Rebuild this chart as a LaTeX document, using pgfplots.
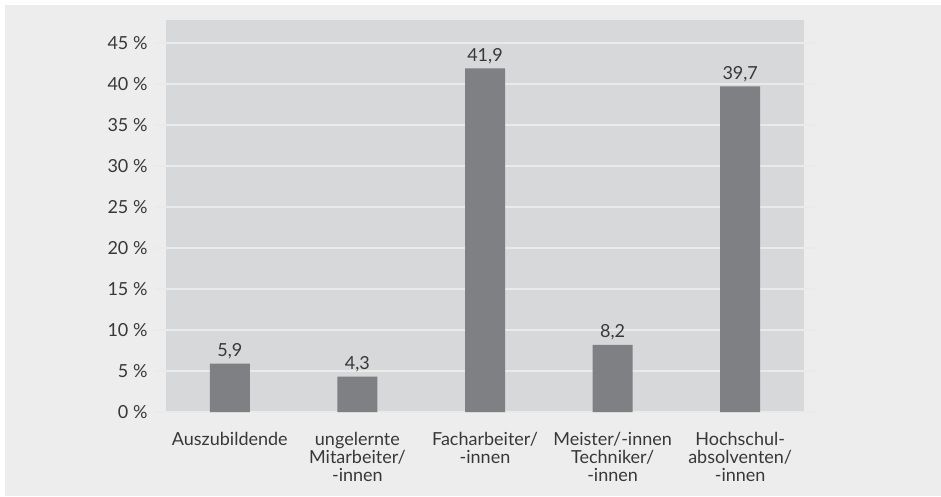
\documentclass[border=0pt]{standalone}
\usepackage{fontspec}
\setmainfont{Lato}
\usepackage{pgfplots}
\pgfplotsset{compat=1.18}
\definecolor{outerbg}{HTML}{EDEDED}
\definecolor{plotbg}{HTML}{D7D8DA}
\definecolor{barcol}{HTML}{7F8084}
\definecolor{gridcol}{HTML}{EAEAEA}
\definecolor{txt}{HTML}{383838}
\newcommand{\lbl}{\fontsize{18}{17.8}\selectfont}

\begin{document}
\begin{tikzpicture}[x=1pt,y=1pt]
\fill[white] (0,0) rectangle (941,-496);
\fill[outerbg] (5,-5) rectangle (941,-496);
\begin{axis}[
    at={(166pt,-412pt)}, anchor=south west,
    scale only axis,
    width=638pt, height=392pt,
    xmin=-0.5, xmax=4.5,
    ymin=0, ymax=47.8,
    ybar, bar width=40pt,
    axis background/.style={fill=plotbg},
    axis line style={draw=none},
    ymajorgrids,
    major grid style={draw=gridcol, line width=1.2pt},
    tick align=outside,
    major tick length=11pt,
    ytick={0,5,...,45},
    yticklabels={0~\%,5~\%,10~\%,15~\%,20~\%,25~\%,30~\%,35~\%,40~\%,45~\%},
    ytick style={draw=gridcol, line width=1.2pt},
    yticklabel style={font=\lbl, text=txt, xshift=-4pt},
    xtick={0,1,2,3,4},
    xtick style={draw=none},
    xticklabels={Auszubildende, ungelernte\\Mitarbeiter/\\-innen, Facharbeiter/\\-innen, Meister/-innen\\Techniker/\\-innen, Hochschul-\\absolventen/\\-innen},
    xticklabel style={font=\lbl, text=txt, align=center, yshift=-6pt},
    nodes near coords={\pgfmathprintnumber[use comma,fixed,fixed zerofill,precision=1,assume math mode=true]{\pgfplotspointmeta}},
    every node near coord/.append style={font=\lbl, text=txt, yshift=1pt},
]
\addplot[fill=barcol, draw=none] coordinates {(0,5.9) (1,4.3) (2,41.9) (3,8.2) (4,39.7)};
\end{axis}
\pgfresetboundingbox
\useasboundingbox (0,0) rectangle (941,-496);
\end{tikzpicture}
\end{document}
